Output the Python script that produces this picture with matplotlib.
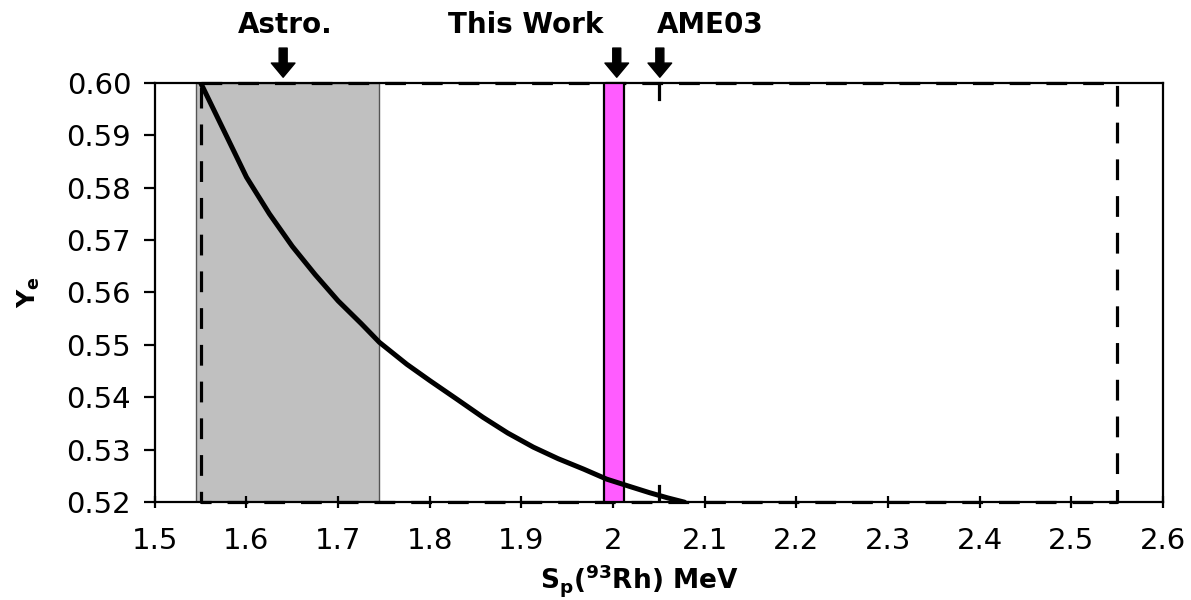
import matplotlib
matplotlib.use('Agg')
import matplotlib.pyplot as plt
from matplotlib.ticker import FormatStrFormatter, FuncFormatter

plt.rcParams['font.family'] = ['DejaVu Sans']
plt.rcParams['mathtext.fontset'] = 'dejavusans'
plt.rcParams['mathtext.default'] = 'bf'

# Ye as a function of the 93Rh proton separation energy
sp_mev = [1.550, 1.575, 1.600, 1.625, 1.650, 1.675, 1.700, 1.725, 1.745,
          1.775, 1.800, 1.830, 1.858, 1.885, 1.913, 1.940, 1.968, 1.993,
          2.020, 2.040, 2.060, 2.078]
ye = [0.6000, 0.5910, 0.5820, 0.5750, 0.5688, 0.5634, 0.5584, 0.5541, 0.5505,
      0.5463, 0.5432, 0.5396, 0.5362, 0.5332, 0.5305, 0.5283, 0.5263, 0.5244,
      0.5229, 0.5218, 0.5208, 0.5200]

# ranges of Sp
astro_range = (1.545, 1.745)
this_work_range = (1.990, 2.012)
ame03_range = (1.55, 2.55)
ame03_value = 2.05

# arrows above the frame: label, arrow x, label x
markers = [('Astro.', 1.640, 1.642),
           ('This Work', 2.004, 1.905),
           ('AME03', 2.051, 2.106)]

x_lim = (1.5, 2.6)
y_lim = (0.52, 0.60)
x_ticks = [1.5, 1.6, 1.7, 1.8, 1.9, 2.0, 2.1, 2.2, 2.3, 2.4, 2.5, 2.6]
y_ticks = [0.52, 0.53, 0.54, 0.55, 0.56, 0.57, 0.58, 0.59, 0.60]

fig = plt.figure(figsize=(11.91, 6.0), dpi=100)
ax = fig.add_axes([0.130, 0.163, 0.8465, 0.699])

ax.axvspan(*astro_range, facecolor='#c0c0c0', edgecolor='#555555', lw=1.0, zorder=1)
ax.axvspan(*this_work_range, facecolor='#ff5cff', edgecolor='black', lw=1.6, zorder=3)

# AME03 box
x0, x1 = ame03_range
ax.plot([x0, x1, x1, x0, x0], [y_lim[1], y_lim[1], y_lim[0], y_lim[0], y_lim[1]],
        color='black', lw=2.3, linestyle=(0, (6.5, 5)), zorder=2, clip_on=False)
ax.plot([ame03_value, ame03_value], [y_lim[1], y_lim[1] - 0.003], color='black', lw=2.3, zorder=2)
ax.plot([ame03_value, ame03_value], [y_lim[0], y_lim[0] + 0.003], color='black', lw=2.3, zorder=2)

ax.plot(sp_mev, ye, color='black', lw=3.6, zorder=4, solid_capstyle='round',
        solid_joinstyle='round')

for label, xa, xt in markers:
    ax.annotate('', xy=(xa, 1.0), xycoords=('data', 'axes fraction'),
                xytext=(0, 25), textcoords='offset points',
                arrowprops=dict(arrowstyle='simple,head_length=0.6,head_width=1.0,tail_width=0.34',
                                mutation_scale=17, fc='black', ec='black',
                                shrinkA=0, shrinkB=4))
    ax.text(xt, 1.119, label, transform=ax.get_xaxis_transform(),
            ha='center', va='baseline', fontsize=20, fontweight='bold')

ax.set_xlim(*x_lim)
ax.set_ylim(*y_lim)
ax.set_xticks(x_ticks)
ax.set_yticks(y_ticks)
ax.xaxis.set_major_formatter(FuncFormatter(lambda v, p: '%g' % round(v, 2)))
ax.yaxis.set_major_formatter(FormatStrFormatter('%.2f'))
ax.tick_params(axis='x', direction='inout', length=9, width=1.6, pad=13, labelsize=21)
ax.tick_params(axis='y', direction='out', length=8, width=1.6, pad=9, labelsize=21)

for s in ax.spines.values():
    s.set_linewidth(1.6)

ax.set_xlabel(r'S$_\mathbf{p}$($^\mathbf{93}$Rh) MeV', fontsize=19, fontweight='bold')
ax.xaxis.set_label_coords(0.481, -0.142)
ax.set_ylabel(r'Y$_\mathbf{e}$', fontsize=18, fontweight='bold')
ax.yaxis.set_label_coords(-0.112, 0.5)

fig.savefig('out.png', dpi=100)
